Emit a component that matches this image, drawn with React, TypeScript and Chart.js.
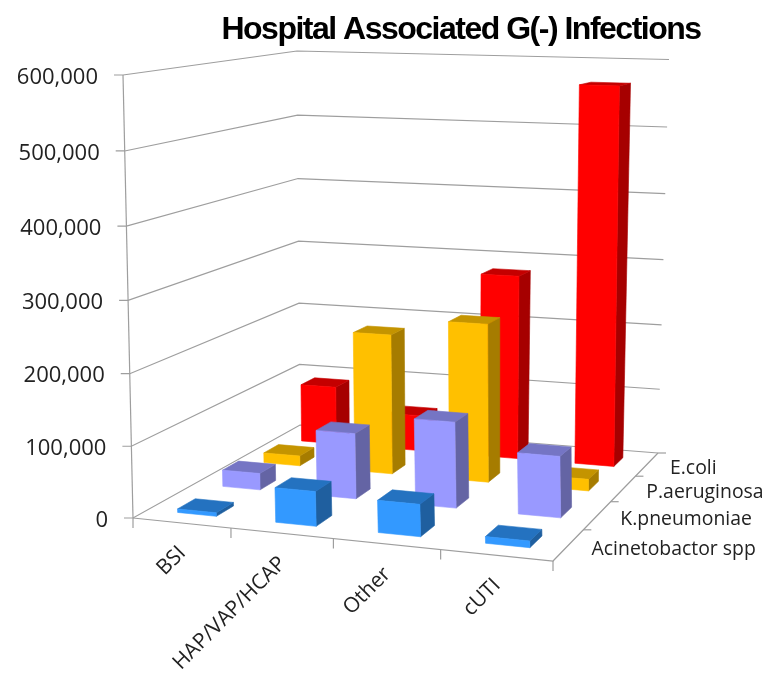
import { useEffect, useRef } from "react";
import { Chart, BarController, BarElement, CategoryScale, LinearScale, Title } from "chart.js";

const categories = ["BSI", "HAP/VAP/HCAP", "Other", "cUTI"];
const acinetobactor = [5000, 48000, 44000, 9000];
const kPneumoniae = [24000, 94000, 122000, 86000];
const pAeruginosa = [15000, 208000, 233000, 17000];
const eColi = [90000, 55000, 280000, 567000];
const yMax = 600000;
const yStep = 100000;

type Pt = [number, number];
const FLOOR: Pt[] = [[133, 518], [553, 561], [658, 453], [300, 425]];
const TOP: Pt[] = [[123, 75], [540, 87], [669, 59.5], [297, 51]];
const PERSPECTIVE_K = 1.035;
const BAR_W = 0.4;
const BAR_D = 0.38;
const BAR_U_SHIFT = 0.002;
const GRID = "#9e9e9e";
const TEXT = "#222222";
const FONT = '"Open Sans", sans-serif';

function homography(q: Pt[]) {
  const [[x0, y0], [x1, y1], [x2, y2], [x3, y3]] = q;
  const dx1 = x1 - x2, dx2 = x3 - x2, sx = x0 - x1 + x2 - x3;
  const dy1 = y1 - y2, dy2 = y3 - y2, sy = y0 - y1 + y2 - y3;
  const d = dx1 * dy2 - dx2 * dy1;
  const g = (sx * dy2 - dx2 * sy) / d;
  const h = (dx1 * sy - sx * dy1) / d;
  const a = x1 - x0 + g * x1, b = x3 - x0 + h * x3;
  const c = y1 - y0 + g * y1, e = y3 - y0 + h * y3;
  return (u: number, v: number): Pt => {
    const w = g * u + h * v + 1;
    return [(a * u + b * v + x0) / w, (c * u + e * v + y0) / w];
  };
}
const floorH = homography(FLOOR);
const topH = homography(TOP);
function project(u: number, v: number, t: number): Pt {
  const f = floorH(u, v);
  const p = topH(u, v);
  const m = t / (t + (1 - t) * PERSPECTIVE_K);
  return [f[0] + (p[0] - f[0]) * m, f[1] + (p[1] - f[1]) * m];
}
function shade(ctx: CanvasRenderingContext2D, pts: Pt[], color: string) {
  ctx.beginPath();
  pts.forEach((p, i) => (i ? ctx.lineTo(p[0], p[1]) : ctx.moveTo(p[0], p[1])));
  ctx.closePath();
  ctx.fillStyle = color;
  ctx.strokeStyle = color;
  ctx.lineWidth = 0.6;
  ctx.fill();
  ctx.stroke();
}
function line(ctx: CanvasRenderingContext2D, pts: Pt[]) {
  ctx.beginPath();
  pts.forEach((p, i) => (i ? ctx.lineTo(p[0], p[1]) : ctx.moveTo(p[0], p[1])));
  ctx.stroke();
}

class Bar3DController extends BarController {
  static id = "bar3d";
  static defaults = { ...BarController.defaults };
  static overrides = BarController.overrides;
  draw() {
    const chart = this.chart;
    const ctx = chart.ctx;
    const meta = this.getMeta();
    const ds: any = this.getDataset();
    const xs = chart.scales.x;
    const ys = chart.scales.y;
    const n = chart.data.datasets.length;
    const c = (this.index + 0.5) / n;
    const halfD = BAR_D / n / 2;
    const v0 = c - halfD, v1 = c + halfD;
    const halfW = (xs.width / xs.ticks.length) * (BAR_W / 2);
    meta.data.forEach((el: any) => {
      const u0 = (el.x - halfW - xs.left) / xs.width + BAR_U_SHIFT;
      const u1 = (el.x + halfW - xs.left) / xs.width + BAR_U_SHIFT;
      const t = (ys.bottom - el.y) / (ys.bottom - ys.top);
      shade(ctx, [project(u1, v0, 0), project(u1, v1, 0), project(u1, v1, t), project(u1, v0, t)], ds.sideColor);
      shade(ctx, [project(u0, v0, t), project(u1, v0, t), project(u1, v1, t), project(u0, v1, t)], ds.topColor);
      shade(ctx, [project(u0, v0, 0), project(u1, v0, 0), project(u1, v0, t), project(u0, v0, t)], ds.backgroundColor);
    });
  }
}

const walls = {
  id: "walls3d",
  beforeDraw(chart: any) {
    chart.ctx.letterSpacing = "-1.5px";
  },
  beforeDatasetsDraw(chart: any) {
    const ctx: CanvasRenderingContext2D = chart.ctx;
    (ctx as any).letterSpacing = "0px";
    const ys = chart.scales.y;
    const xs = chart.scales.x;
    ctx.save();
    ctx.strokeStyle = GRID;
    ctx.lineWidth = 1.2;
    ctx.fillStyle = TEXT;
    ctx.font = `22px ${FONT}`;
    ctx.textAlign = "right";
    ctx.textBaseline = "middle";
    ys.ticks.forEach((tick: any) => {
      const t = (ys.bottom - ys.getPixelForValue(tick.value)) / (ys.bottom - ys.top);
      const a = project(0, 0, t), b = project(0, 1, t), c = project(1, 1, t);
      line(ctx, [[a[0] - 9, a[1]], a, b, c]);
      ctx.fillText(tick.label, a[0] - 25, a[1] + 2.5);
    });
    line(ctx, [project(0, 0, 0), project(0, 0, 1)]);
    line(ctx, [project(0, 0, 0), project(1, 0, 0), project(1, 1, 0)]);
    const nCat = xs.ticks.length;
    for (let i = 0; i <= nCat; i++) {
      const p = project(i / nCat, 0, 0);
      line(ctx, [p, [p[0], p[1] + 10]]);
    }
    const series = chart.data.datasets;
    for (let j = 1; j <= series.length; j++) {
      const p = project(1, j / series.length, 0);
      line(ctx, [p, [p[0] + 8, p[1]]]);
    }
    ctx.font = `21px ${FONT}`;
    xs.ticks.forEach((tick: any, i: number) => {
      const u = (xs.getPixelForTick(i) - xs.left) / xs.width;
      const p = project(u, 0, 0);
      ctx.save();
      ctx.translate(p[0] + 1, p[1] + 27);
      ctx.rotate(-Math.PI / 4);
      ctx.textAlign = "right";
      ctx.fillText(tick.label, 0, 0);
      ctx.restore();
    });
    ctx.textAlign = "left";
    ctx.font = `19.4px ${FONT}`;
    series.forEach((d: any, j: number) => {
      const p = project(1, (j + 0.5) / series.length, 0);
      ctx.fillText(d.label, p[0] + 23, p[1] + 4);
    });
    ctx.restore();
  },
};

export default function App() {
  const ref = useRef<HTMLCanvasElement>(null);
  useEffect(() => {
    Chart.register(Bar3DController, BarElement, CategoryScale, LinearScale, Title);
    const chart = new Chart(ref.current!, {
      type: "bar3d" as any,
      data: {
        labels: categories,
        datasets: [
          { label: "Acinetobactor spp", data: acinetobactor, backgroundColor: "#3399ff", sideColor: "#1f5f9f", topColor: "#2472c0" },
          { label: "K.pneumoniae", data: kPneumoniae, backgroundColor: "#9999ff", sideColor: "#6464a4", topColor: "#7575c4" },
          { label: "P.aeruginosa", data: pAeruginosa, backgroundColor: "#ffc000", sideColor: "#a67c00", topColor: "#c49400" },
          { label: "E.coli", data: eColi, backgroundColor: "#ff0000", sideColor: "#a60000", topColor: "#c40000" },
        ] as any,
      },
      options: {
        animation: false,
        responsive: false,
        layout: { padding: { left: 158, top: 11, right: 0, bottom: 60 } },
        datasets: { bar3d: { grouped: false } } as any,
        scales: {
          x: { type: "category", offset: true, display: false },
          y: {
            type: "linear",
            min: 0,
            max: yMax,
            display: false,
            ticks: { stepSize: yStep, callback: (v: any) => Number(v).toLocaleString("en-US") },
          },
        },
        plugins: {
          title: {
            display: true,
            text: "Hospital Associated G(-) Infections",
            color: "#000",
            font: { family: '"Liberation Sans", Arial, sans-serif', size: 32, weight: "bold" },
            padding: { top: 0, bottom: 10 },
          },
          legend: { display: false },
          tooltip: { enabled: false },
        } as any,
      },
      plugins: [walls],
    });
    return () => chart.destroy();
  }, []);
  return (
    <div style={{ position: "fixed", left: 0, top: 0, width: 764, height: 677, background: "#fff" }}>
      <canvas ref={ref} width={764} height={677} style={{ display: "block", filter: "blur(0.4px)" }} />
    </div>
  );
}
